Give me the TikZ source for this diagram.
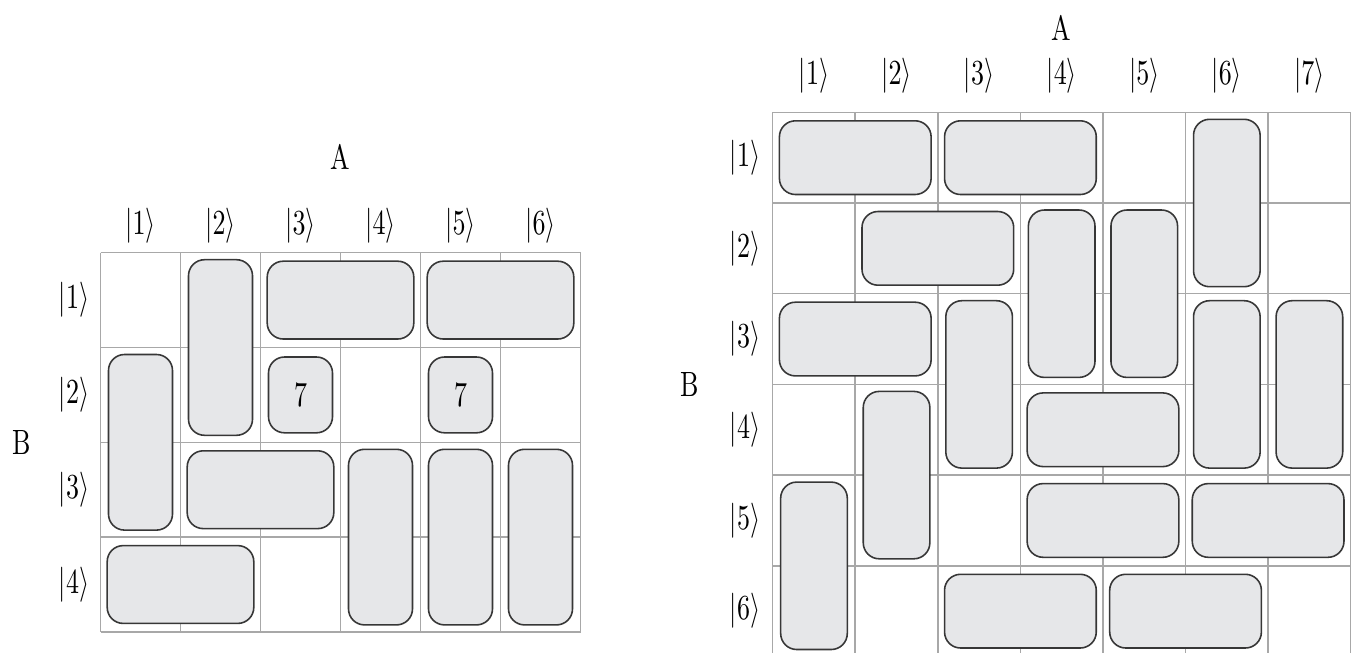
\documentclass[tikz,border=0pt]{standalone}
\usepackage{tikz}
\usepackage{graphicx}
\definecolor{cellgray}{RGB}{168,168,168}
\definecolor{dominofill}{RGB}{230,231,233}
\definecolor{dominoline}{RGB}{55,55,55}
\newcommand{\narrow}[1]{\scalebox{0.74}[1]{#1}}

\begin{document}
\begin{tikzpicture}[
    gridline/.style={draw=cellgray, line width=0.45pt},
    domino/.style={draw=dominoline, fill=dominofill, line width=0.45pt,
        rounded corners=0.16cm, inner sep=0pt, outer sep=0pt},
    ]
    \useasboundingbox (0,0) rectangle (13.59,-6.52);
    \clip (0,0) rectangle (13.59,-6.52);

    % left lattice, 6 x 4
    \begin{scope}[shift={(1.005,-2.527)}, x=0.8cm, y=-0.948cm,
        hdom/.style={domino, minimum width=1.466cm, minimum height=0.778cm},
        vdom/.style={domino, minimum width=0.64cm, minimum height=1.756cm},
        sdom/.style={domino, minimum width=0.64cm, minimum height=0.758cm}]
        \foreach \c in {0,...,6}
            \draw[gridline] (\c,0) -- (\c,4);
        \foreach \r in {0,...,4}
            \draw[gridline] (0,\r) -- (6,\r);

        \node (lA) at (3,-1.01) {\narrow{A}};
        \node (lB) at (-0.99,2) {\narrow{B}};
        \foreach \c in {1,...,6}
            \node (lcol\c) at (\c-0.5,-0.29) {\narrow{$|\c\rangle$}};
        \foreach \r in {1,...,4}
            \node (lrow\r) at (-0.33,\r-0.5) {\narrow{$|\r\rangle$}};

        % horizontal pairs: first column / row
        \foreach \c/\r in {3/1, 5/1, 2/3, 1/4}
            \node[hdom] (lh\c\r) at (\c,\r-0.5) {};
        % vertical pairs: column / first row
        \foreach \c/\r in {2/1, 1/2, 4/3, 5/3, 6/3}
            \node[vdom] (lv\c\r) at (\c-0.5,\r) {};
        \node[sdom] (ls32) at (2.5,1.5) {\narrow{7}};
        \node[sdom] (ls52) at (4.5,1.5) {\narrow{7}};
    \end{scope}

    % right lattice, 7 x 6
    \begin{scope}[shift={(7.727,-1.123)}, x=0.8257cm, y=-0.907cm,
        hdom/.style={domino, minimum width=1.517cm, minimum height=0.737cm},
        vdom/.style={domino, minimum width=0.666cm, minimum height=1.674cm}]
        \foreach \c in {0,...,7}
            \draw[gridline] (\c,0) -- (\c,6);
        \foreach \r in {0,...,6}
            \draw[gridline] (0,\r) -- (7,\r);

        \node (rA) at (3.5,-0.93) {\narrow{A}};
        \node (rB) at (-1,3) {\narrow{B}};
        \foreach \c in {1,...,7}
            \node (rcol\c) at (\c-0.5,-0.406) {\narrow{$|\c\rangle$}};
        \foreach \r in {1,...,6}
            \node (rrow\r) at (-0.335,\r-0.5) {\narrow{$|\r\rangle$}};

        \foreach \c/\r in {1/1, 3/1, 2/2, 1/3, 4/4, 4/5, 6/5, 3/6, 5/6}
            \node[hdom] (rh\c\r) at (\c,\r-0.5) {};
        \foreach \c/\r in {6/1, 4/2, 5/2, 3/3, 6/3, 7/3, 2/4, 1/5}
            \node[vdom] (rv\c\r) at (\c-0.5,\r) {};
    \end{scope}
\end{tikzpicture}
\end{document}
